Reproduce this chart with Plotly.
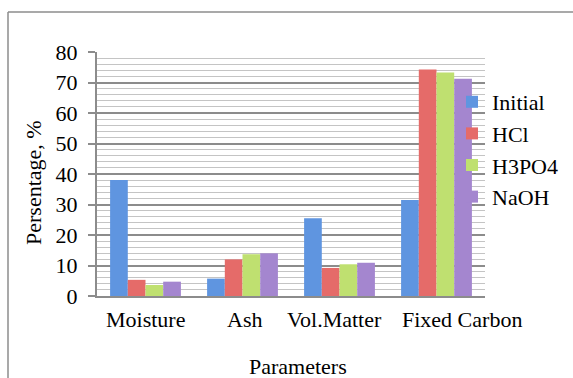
import plotly.graph_objects as go

categories = ["Moisture", "Ash", "Vol.Matter", "Fixed Carbon"]
initial = [38.0, 5.7, 25.5, 31.5]
hcl = [5.3, 12.0, 9.2, 74.3]
h3po4 = [3.6, 13.7, 10.4, 73.3]
naoh = [4.7, 14.0, 10.9, 71.2]
series_names = ["Initial", "HCl", "H3PO4", "NaOH"]
colors = ["#5f95e0", "#e56b69", "#bfe070", "#a486cf"]
label_shifts = [0, 2, -5, 25]

W, H = 573, 378
ML, MR, MT, MB = 97, 88, 52, 82
PW, PH = W - ML - MR, H - MT - MB

def px_x(p):
    return (p - ML) / PW

def px_y(p):
    return (H - MB - p) / PH

FONT = "Times New Roman, Liberation Serif, serif"
FS = 22

fig = go.Figure()
for name, vals, c in zip(series_names, [initial, hcl, h3po4, naoh], colors):
    fig.add_trace(go.Bar(x=categories, y=vals, name=name,
                         marker=dict(color=c, line=dict(width=0))))

fig.update_layout(
    width=W, height=H,
    margin=dict(l=ML, r=MR, t=MT, b=MB, autoexpand=False),
    paper_bgcolor="white", plot_bgcolor="white",
    barmode="group", bargap=0.27, bargroupgap=0,
    font=dict(family=FONT, size=FS, color="black"),
    legend=dict(x=px_x(452), y=px_y(81), xanchor="left", yanchor="top",
                bgcolor="rgba(0,0,0,0)", font=dict(size=FS, family=FONT, color="black"),
                tracegroupgap=0, itemwidth=30),
    showlegend=True,
)
fig.update_yaxes(range=[0, 80], dtick=10, tick0=0,
                 showgrid=True, gridcolor="#8c8c8c", gridwidth=1.5,
                 minor=dict(dtick=2, showgrid=True, gridcolor="#c4c4c4", gridwidth=1.2),
                 showline=True, linecolor="#8c8c8c", linewidth=2,
                 ticks="outside", ticklen=7, tickcolor="#8c8c8c", tickwidth=1.5,
                 zeroline=False, tickfont=dict(size=FS, family=FONT, color="black"),
                 ticklabelstandoff=6)
fig.update_xaxes(range=[-0.5, len(categories) - 0.5],
                 showline=True, linecolor="#8c8c8c", linewidth=2,
                 ticks="", showgrid=False, showticklabels=False)

# category labels (Excel-style placement, nudged to avoid overlap)
for cat, dx in zip(categories, label_shifts):
    fig.add_annotation(text=cat, xref="x", yref="paper", x=cat, y=px_y(319),
                       xshift=dx, showarrow=False, xanchor="center", yanchor="middle",
                       font=dict(size=FS, family=FONT, color="black"))

fig.add_annotation(text="Persentage, %", textangle=-90, xref="paper", yref="paper",
                   x=px_x(33), y=px_y(183), showarrow=False,
                   font=dict(size=FS, family=FONT, color="black"),
                   xanchor="center", yanchor="middle")
fig.add_annotation(text="Parameters", xref="paper", yref="paper",
                   x=px_x(298), y=px_y(366), showarrow=False,
                   font=dict(size=FS, family=FONT, color="black"),
                   xanchor="center", yanchor="middle")

# outer chart frame (left and top edges visible)
fig.add_shape(type="line", xref="paper", yref="paper",
              x0=px_x(8), x1=px_x(8), y0=px_y(12), y1=px_y(400),
              line=dict(color="#8c8c8c", width=1.5))
fig.add_shape(type="line", xref="paper", yref="paper",
              x0=px_x(8), x1=px_x(600), y0=px_y(12), y1=px_y(12),
              line=dict(color="#8c8c8c", width=1.5))

fig.write_html("out.html", config={"displayModeBar": False},
               post_script="document.body.style.margin='0px';document.body.style.overflow='hidden';")
